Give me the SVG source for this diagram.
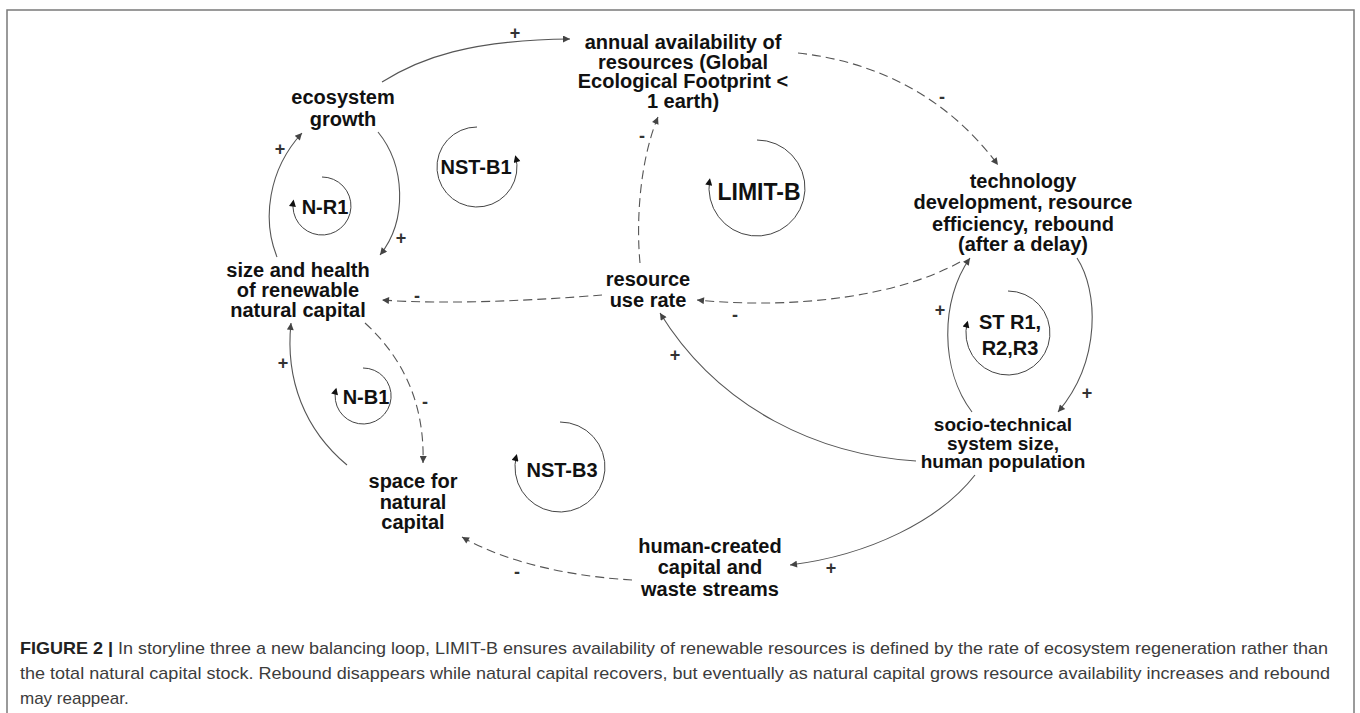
<svg xmlns="http://www.w3.org/2000/svg" width="1360" height="713" viewBox="0 0 1360 713">
<style>
.n{font-family:"Liberation Sans",Arial,sans-serif;font-weight:bold;font-size:20px;fill:#111;text-anchor:middle}
.t{font-size:19px}
.lp{font-family:"Liberation Sans",Arial,sans-serif;font-weight:bold;font-size:20px;fill:#111;text-anchor:middle}
.s{font-family:"Liberation Sans",Arial,sans-serif;font-weight:bold;font-size:18px;fill:#333;text-anchor:middle}
.e{fill:none;stroke:#555;stroke-width:1.1}
.d{stroke-dasharray:9 5}
.loop{fill:none;stroke:#444;stroke-width:1}
.cap{font-family:"Liberation Sans",Arial,sans-serif;font-size:17px;fill:#3c3c3c}
</style>
<defs>
<marker id="ah" viewBox="0 0 10 10" refX="10" refY="5" markerWidth="10" markerHeight="7" markerUnits="userSpaceOnUse" orient="auto">
<path d="M0,0 L10,5 L0,10 z" fill="#444"/>
</marker>
<marker id="lh" viewBox="0 0 10 10" refX="8" refY="5" markerWidth="10" markerHeight="7" markerUnits="userSpaceOnUse" orient="auto">
<path d="M0,0 L10,5 L0,10 z" fill="#111"/>
</marker>
</defs>
<rect x="7" y="10" width="1347" height="712" fill="#fff" stroke="#7a7a7a" stroke-width="1.5"/>

<g id="connectors">
<path class="e" d="M382,82 C420,58 470,40 570,39" marker-end="url(#ah)"/>
<path class="e d" d="M798,53 C880,62 950,100 998,165" marker-end="url(#ah)"/>
<path class="e d" d="M960,262 C900,295 800,310 697,300" marker-end="url(#ah)"/>
<path class="e d" d="M602,295 C540,300 450,305 382,300" marker-end="url(#ah)"/>
<path class="e d" d="M640,263 C636,220 640,160 658,117" marker-end="url(#ah)"/>
<path class="e" d="M1077,258 C1098,290 1102,360 1058,412" marker-end="url(#ah)"/>
<path class="e" d="M972,412 C940,370 940,300 970,258" marker-end="url(#ah)"/>
<path class="e" d="M916,461 C820,455 720,410 660,313" marker-end="url(#ah)"/>
<path class="e" d="M975,475 C940,520 870,555 790,565" marker-end="url(#ah)"/>
<path class="e d" d="M632,580 C580,577 510,565 462,537" marker-end="url(#ah)"/>
<path class="e" d="M347,465 C305,430 285,380 291,323" marker-end="url(#ah)"/>
<path class="e d" d="M365,323 C400,355 425,400 423,463" marker-end="url(#ah)"/>
<path class="e" d="M277,257 C262,220 268,170 302,133" marker-end="url(#ah)"/>
<path class="e" d="M378,132 C405,165 408,220 380,255" marker-end="url(#ah)"/>
<text class="s" x="515" y="39">+</text>
<text class="s" x="942" y="103">-</text>
<text class="s" x="735" y="321">-</text>
<text class="s" x="417" y="302">-</text>
<text class="s" x="642" y="142">-</text>
<text class="s" x="1087" y="399">+</text>
<text class="s" x="940" y="316">+</text>
<text class="s" x="675" y="361">+</text>
<text class="s" x="831" y="574">+</text>
<text class="s" x="517" y="578">-</text>
<text class="s" x="283" y="369">+</text>
<text class="s" x="425" y="408">-</text>
<text class="s" x="280" y="155">+</text>
<text class="s" x="401" y="244">+</text>
</g>

<g id="annual">
<text class="n" x="683" y="49">annual availability of</text>
<text class="n" x="683" y="68.5">resources (Global</text>
<text class="n" x="683" y="88">Ecological Footprint &lt;</text>
<text class="n" x="683" y="107.5">1 earth)</text>
</g>
<g id="ecosystem">
<text class="n" x="343" y="104">ecosystem</text>
<text class="n" x="343" y="126">growth</text>
</g>
<g id="technology">
<text class="n" x="1023" y="188">technology</text>
<text class="n" x="1023" y="209">development, resource</text>
<text class="n" x="1023" y="231">efficiency, rebound</text>
<text class="n" x="1023" y="251">(after a delay)</text>
</g>
<g id="natural-capital">
<text class="n" x="298" y="277">size and health</text>
<text class="n" x="298" y="297">of renewable</text>
<text class="n" x="298" y="317">natural capital</text>
</g>
<g id="resource-use">
<text class="n" x="648" y="286">resource</text>
<text class="n" x="648" y="307">use rate</text>
</g>
<g id="socio-technical">
<text class="n t" x="1003" y="431">socio-technical</text>
<text class="n t" x="1003" y="449.5">system size,</text>
<text class="n t" x="1003" y="468">human population</text>
</g>
<g id="space">
<text class="n" x="413" y="488">space for</text>
<text class="n" x="413" y="509">natural</text>
<text class="n" x="413" y="529">capital</text>
</g>
<g id="human-created">
<text class="n" x="710" y="553">human-created</text>
<text class="n" x="710" y="574">capital and</text>
<text class="n" x="710" y="596">waste streams</text>
</g>

<g id="loop-NR1">
<path class="loop" d="M322,177 A29,29 0 1 1 293.4,201" marker-end="url(#lh)"/>
<text class="lp" x="325" y="214">N-R1</text>
</g>
<g id="loop-NSTB1">
<path class="loop" d="M477,127 A40,40 0 1 0 515.6,156.6" marker-end="url(#lh)"/>
<text class="lp" x="476" y="174">NST-B1</text>
</g>
<g id="loop-LIMITB">
<path class="loop" d="M757,140 A48,48 0 1 1 709.7,179.7" marker-end="url(#lh)"/>
<text class="lp" x="759" y="200" style="font-size:23px">LIMIT-B</text>
</g>
<g id="loop-STR">
<path class="loop" d="M1008,291 A42,42 0 1 1 967.4,322" marker-end="url(#lh)"/>
<text class="lp" x="1010" y="329">ST R1,</text>
<text class="lp" x="1010" y="355">R2,R3</text>
</g>
<g id="loop-NB1">
<path class="loop" d="M363,368 A28,28 0 1 1 336,389" marker-end="url(#lh)"/>
<text class="lp" x="366" y="404">N-B1</text>
</g>
<g id="loop-NSTB3">
<path class="loop" d="M560,422 A45,45 0 1 1 516.5,455.4" marker-end="url(#lh)"/>
<text class="lp" x="562" y="477">NST-B3</text>
</g>

<g id="caption">
<text class="cap" x="20" y="654" textLength="1308" lengthAdjust="spacingAndGlyphs"><tspan font-weight="bold" fill="#222">FIGURE 2 |</tspan> In storyline three a new balancing loop, LIMIT-B ensures availability of renewable resources is defined by the rate of ecosystem regeneration rather than</text>
<text class="cap" x="20" y="679" textLength="1310" lengthAdjust="spacingAndGlyphs">the total natural capital stock. Rebound disappears while natural capital recovers, but eventually as natural capital grows resource availability increases and rebound</text>
<text class="cap" x="20" y="704">may reappear.</text>
</g>
</svg>
